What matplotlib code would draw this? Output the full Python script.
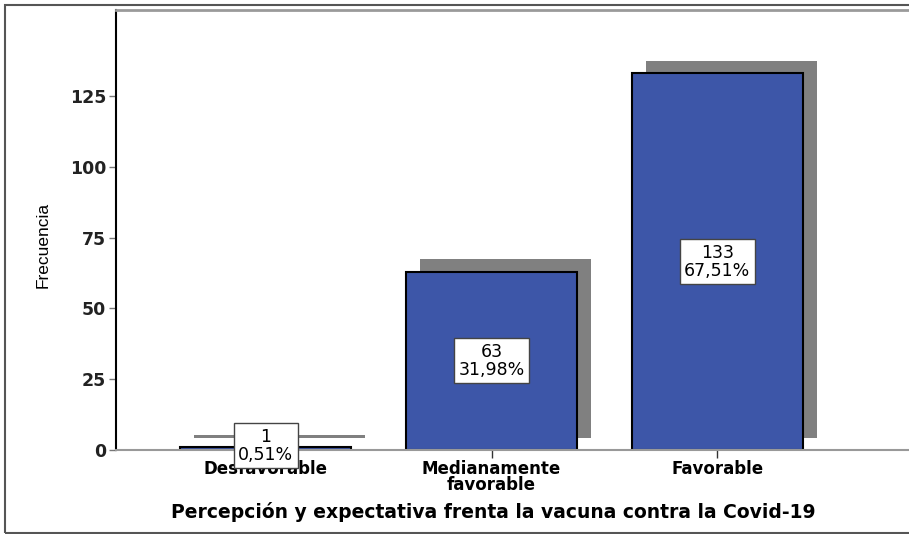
import matplotlib
matplotlib.use("Agg")
from matplotlib import pyplot as plt
from matplotlib import font_manager
from matplotlib.patches import Rectangle
import numpy as np

# data
categorias = ["Desfavorable", "Medianamente\nfavorable", "Favorable"]
frecuencias = [1, 63, 133]
porcentajes = ["0,51%", "31,98%", "67,51%"]

bar_color = "#3D56A8"
shadow_color = "#808080"

# narrow font for the y label, if there is one
names = set(f.name for f in font_manager.fontManager.ttflist)
narrow = "Liberation Sans Narrow" if "Liberation Sans Narrow" in names else "Liberation Sans"

fig = plt.figure(figsize=(9.09, 5.34), dpi=100)
ax = fig.add_axes([116/909, 1 - 450/534, 1 - 116/909, 440/534])

x = np.arange(len(categorias))
width = 0.757
dx, dy = 0.062, 4.3  # drop shadow offset

ax.bar(x + dx, frecuencias, width, bottom=dy, color=shadow_color, zorder=1)
ax.bar(x, frecuencias, width, color=bar_color, edgecolor="black", linewidth=1.5, zorder=2)

for xi, f, p in zip(x, frecuencias, porcentajes):
    ypos = f / 2 if f > 10 else 1.5
    ax.text(xi, ypos, str(f) + "\n" + p, ha="center", va="center", fontsize=12.5,
            linespacing=1.0, zorder=4,
            bbox=dict(boxstyle="square,pad=0.25", fc="white", ec="#444444", lw=1))

ax.set_xlim(-0.664, 2.85)
ax.set_ylim(0, 155.4)
ax.set_yticks([0, 25, 50, 75, 100, 125])
ax.set_xticks(x)
ax.set_xticklabels(categorias, fontsize=12, fontweight="bold", linespacing=0.9)
ax.tick_params(axis="y", labelsize=12.5, length=5, width=1, color="#777777", pad=2)
ax.tick_params(axis="x", length=6, width=1, color="#333333", pad=1)
for lab in ax.get_yticklabels():
    lab.set_fontweight("bold")
    lab.set_color("#222222")
for lab in ax.get_xticklabels():
    lab.set_zorder(1)

ax.spines["right"].set_visible(False)
ax.spines["left"].set_color("black")
ax.spines["left"].set_linewidth(1.5)
ax.spines["bottom"].set_color("#999999")
ax.spines["bottom"].set_linewidth(1.5)
ax.spines["top"].set_color("#9a9a9a")
ax.spines["top"].set_linewidth(2)

ax.set_xlabel("Percepción y expectativa frenta la vacuna contra la Covid-19",
              fontsize=13.5, fontweight="bold")
ax.xaxis.set_label_coords((493 - 116) / 793, -62 / 440)
ax.xaxis.label.set_va("center")
ax.set_ylabel("Frecuencia", fontsize=12.5, family=narrow)
ax.yaxis.set_label_coords(-0.083, 0.466)

# outer frame
fig.patches.append(Rectangle((5/909, 1/534), 1, 1 - 6/534, transform=fig.transFigure,
                             fill=False, edgecolor="#555555", linewidth=1.5))

plt.savefig("out.png", dpi=100)
